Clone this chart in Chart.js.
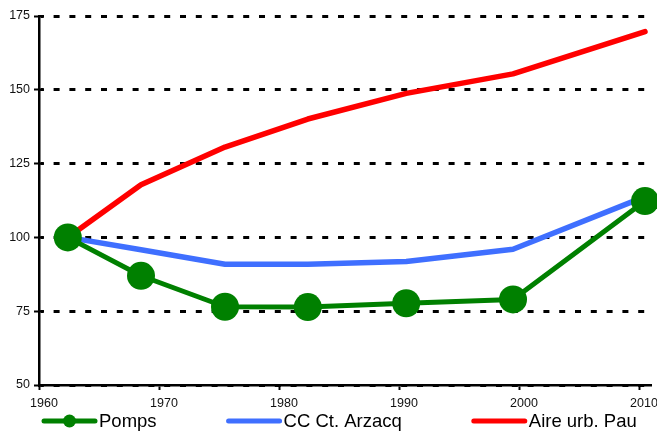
<!DOCTYPE html>
<html>
<head>
<meta charset="utf-8">
<script src="https://cdn.jsdelivr.net/npm/chart.js@4/dist/chart.umd.min.js"></script>
<style>
  html, body { margin: 0; padding: 0; background: #fff; }
  #wrap { width: 657px; height: 432px; position: relative; }
  #c { display: block; }
</style>
</head>
<body>
<div id="wrap"><canvas id="c" width="657" height="432"></canvas></div>
<script>
// Population index (base 100 in 1962), census years
const years  = [1962.4, 1968.5, 1975.5, 1982.4, 1990.6, 1999.5, 2010.5];
const seriesNames = ['Pomps', 'CC Ct. Arzacq', 'Aire urb. Pau'];
const pomps  = [100, 87.0, 76.5, 76.4, 77.7, 79.0, 112.3];
const arzacq = [100, 95.8, 90.9, 90.9, 91.8, 96.0, 113.8];
const pau    = [100, 117.8, 130.6, 140.1, 148.8, 155.4, 169.7];
const xTicks = [1960, 1970, 1980, 1990, 2000, 2010];
const yTicks = [50, 75, 100, 125, 150, 175];

const FONT = '"Liberation Sans", Arial, sans-serif';

const toPoints = vals => vals.map((v, i) => ({ x: years[i], y: v }));

// Legend drawn under the axis: line sample (+ marker) followed by the label
const bottomLegend = {
  id: 'bottomLegend',
  afterDraw(chart) {
    const ctx = chart.ctx;
    const y = 421, lineLen = 55, textGap = 2, itemGap = 70;
    let x = 42;
    ctx.save();
    ctx.font = '18.5px ' + FONT;
    ctx.textBaseline = 'middle';
    ctx.textAlign = 'left';
    chart.data.datasets.forEach(ds => {
      ctx.strokeStyle = ds.borderColor;
      ctx.lineWidth = 5;
      ctx.lineCap = 'round';
      ctx.beginPath();
      ctx.moveTo(x + 2, y);
      ctx.lineTo(x + lineLen - 2, y);
      ctx.stroke();
      if (ds.pointRadius > 0) {
        ctx.fillStyle = ds.pointBackgroundColor;
        ctx.beginPath();
        ctx.arc(x + lineLen / 2, y, 6.5, 0, Math.PI * 2);
        ctx.fill();
      }
      ctx.fillStyle = '#000';
      ctx.fillText(ds.label, x + lineLen + textGap, y + 1);
      x += lineLen + textGap + ctx.measureText(ds.label).width + itemGap;
    });
    ctx.restore();
  }
};

// Value-axis tick marks cross the axis line: draw the inner half
const crossTicks = {
  id: 'crossTicks',
  afterDraw(chart) {
    const ys = chart.scales.y;
    const ctx = chart.ctx;
    ctx.save();
    ctx.strokeStyle = '#000';
    ctx.lineWidth = 2;
    ys.ticks.forEach(t => {
      const py = ys.getPixelForValue(t.value);
      ctx.beginPath();
      ctx.moveTo(ys.right, py);
      ctx.lineTo(ys.right + 5, py);
      ctx.stroke();
    });
    ctx.restore();
  }
};

new Chart(document.getElementById('c'), {
  type: 'line',
  data: {
    datasets: [
      {
        label: seriesNames[0],
        data: toPoints(pomps),
        borderColor: '#008000',
        backgroundColor: '#008000',
        pointBackgroundColor: '#008000',
        pointBorderColor: '#008000',
        pointBorderWidth: 0,
        pointRadius: 14,
        pointHoverRadius: 14,
        borderWidth: 5,
        clip: false
      },
      {
        label: seriesNames[1],
        data: toPoints(arzacq),
        borderColor: '#3f6fff',
        backgroundColor: '#3f6fff',
        pointRadius: 0,
        borderWidth: 5.5,
        clip: false
      },
      {
        label: seriesNames[2],
        data: toPoints(pau),
        borderColor: '#ff0000',
        backgroundColor: '#ff0000',
        pointRadius: 0,
        borderWidth: 5.5,
        clip: false
      }
    ]
  },
  options: {
    responsive: false,
    maintainAspectRatio: false,
    animation: false,
    devicePixelRatio: 1,
    layout: { autoPadding: false, padding: { top: 16, right: 6, left: 0, bottom: 0 } },
    elements: {
      line: { tension: 0, borderCapStyle: 'round', borderJoinStyle: 'round', fill: false }
    },
    plugins: {
      legend: { display: false },
      tooltip: { enabled: false }
    },
    scales: {
      x: {
        type: 'linear',
        min: 1960,
        max: 2011,
        afterBuildTicks: s => { s.ticks = xTicks.map(v => ({ value: v })); },
        afterFit: s => { s.height = 47; s.paddingLeft = 0; s.paddingRight = 0; },
        ticks: {
          autoSkip: false,
          maxRotation: 0,
          padding: 6,
          labelOffset: 5,
          color: '#111',
          font: { family: FONT, size: 12.5 },
          callback: v => String(v)
        },
        grid: {
          drawOnChartArea: false,
          drawTicks: true,
          tickLength: 5,
          tickWidth: 2,
          tickColor: '#000'
        },
        border: { display: true, color: '#000', width: 2.5 }
      },
      y: {
        type: 'linear',
        min: 50,
        max: 175,
        afterBuildTicks: s => { s.ticks = yTicks.map(v => ({ value: v })); },
        afterFit: s => { s.width = 39; s.paddingTop = 0; s.paddingBottom = 0; },
        ticks: {
          padding: 4,
          color: '#111',
          font: { family: FONT, size: 12.5 },
          callback: v => String(v)
        },
        grid: {
          color: '#000',
          lineWidth: 3,
          drawTicks: true,
          tickLength: 5,
          tickWidth: 2,
          tickColor: '#000'
        },
        border: { display: true, color: '#000', width: 2.5, dash: [6, 9.8], dashOffset: 2.7 }
      }
    }
  },
  plugins: [crossTicks, bottomLegend]
});
</script>
</body>
</html>
